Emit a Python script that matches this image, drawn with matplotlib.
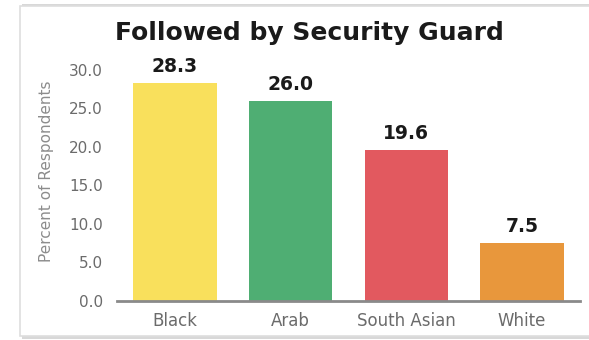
import matplotlib.pyplot as plt
from matplotlib.patches import Rectangle

groups = ["Black", "Arab", "South Asian", "White"]
percent = [28.3, 26.0, 19.6, 7.5]
colors = ["#F9E05C", "#4FAE73", "#E2595F", "#E8973C"]
yticks = [0, 5, 10, 15, 20, 25, 30]

plt.rcParams['font.family'] = ['DejaVu Sans']

fig = plt.figure(figsize=(5.89, 3.40), dpi=100)

# card frame with a soft shadow along the bottom
fig.patches.append(Rectangle((22 / 589, 1 - 339 / 340), 1.0, 335 / 340,
                             transform=fig.transFigure, facecolor="#d8d8d8",
                             edgecolor="none", zorder=0))
fig.patches.append(Rectangle((20 / 589, 1 - 336 / 340), 1.0, 330 / 340,
                             transform=fig.transFigure, facecolor="white",
                             edgecolor="#dedede", linewidth=1.2, zorder=1))

ax = fig.add_axes([117 / 589, 39.3 / 340, 463 / 589, 230.7 / 340])
ax.set_zorder(5)
ax.patch.set_alpha(0)

x = range(len(groups))
bars = ax.bar(x, percent, width=0.72, color=colors, zorder=2)
for b, v in zip(bars, percent):
    ax.text(b.get_x() + b.get_width() / 2, v + 0.9, f"{v:.1f}",
            ha="center", va="bottom", fontsize=13.5, fontweight="bold",
            color="#1a1a1a", clip_on=False)

ax.set_xlim(-0.5, 3.5)
ax.set_ylim(0, 30)
ax.set_yticks(yticks)
ax.set_yticklabels([f"{t:.1f}" for t in yticks])
ax.set_xticks(list(x))
ax.set_xticklabels(groups)
ax.tick_params(axis="both", length=0, labelcolor="#6b6b6b")
ax.tick_params(axis="y", pad=10, labelsize=11)
ax.tick_params(axis="x", pad=8, labelsize=12)

for s in ["top", "right", "left"]:
    ax.spines[s].set_visible(False)
ax.spines["bottom"].set_color("#8a8a8a")
ax.spines["bottom"].set_linewidth(2)
ax.spines["bottom"].set_zorder(3)

ax.set_ylabel("Percent of Respondents", fontsize=11, color="#8c8c8c")
ax.yaxis.set_label_coords(-0.137, 0.562)

fig.text(309 / 589, 1 - 33 / 340, "Followed by Security Guard", ha="center",
         va="center", fontsize=18, fontweight="bold", color="#1a1a1a",
         zorder=6)

fig.savefig("out.png", dpi=100)
